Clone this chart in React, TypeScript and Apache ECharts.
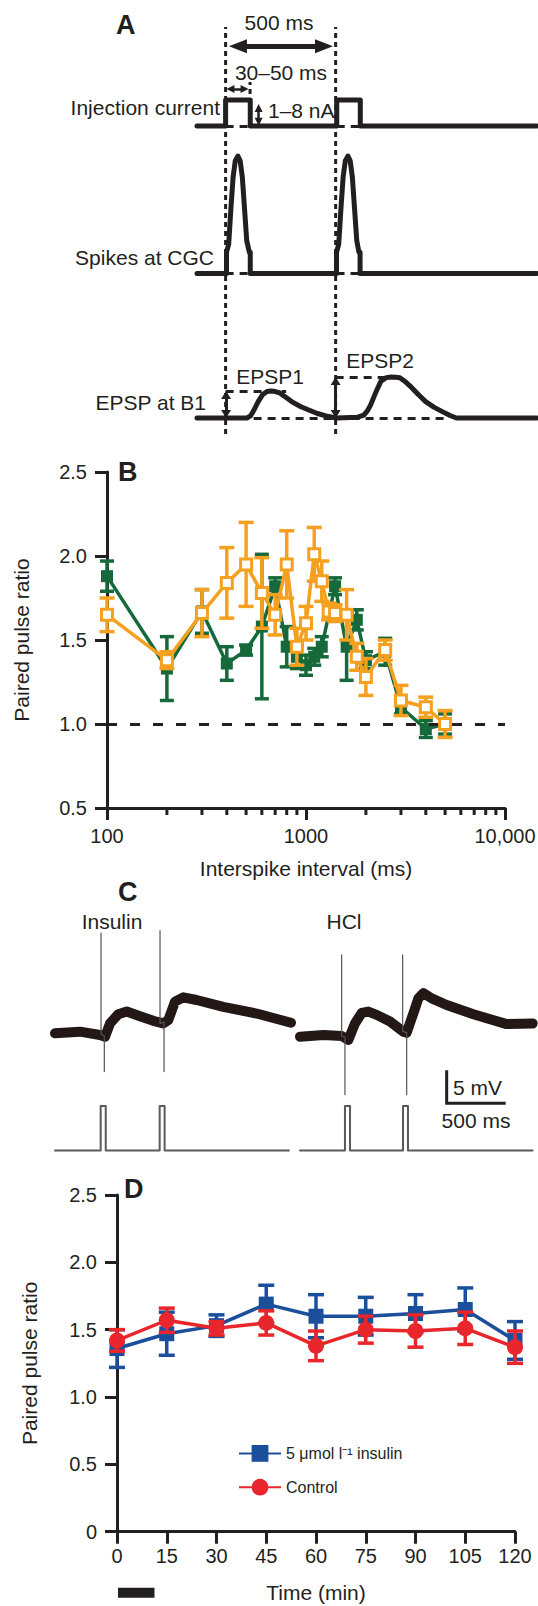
import React, { useEffect, useRef } from "react";
import * as echarts from "echarts";

const FONT = '"Liberation Sans", Arial, Helvetica, sans-serif';
const INK = "#231f20";
const GREEN = "#15693a";
const ORANGE = "#f5a01f";
const BLUE = "#1b4f9c";
const RED = "#e8262b";
const TRACE = "#231815";

// ---------- Panel A : schematic (time in ms, normalised amplitude) ----------
const injTime = [-130, 0, 0, 112, 112, 505, 505, 612, 612, 1415];
const injAmp = [0, 0, 1, 1, 0, 0, 1, 1, 0, 0];
const spikeTime = [-130, 4, 4, 14, 24, 34, 44, 56, 66, 76, 86, 96, 108, 112, 112, 504, 504, 514, 524, 534, 544, 556, 566, 576, 586, 596, 606, 611, 611, 1415];
const spikeAmp = [0, 0, 0.18, 0.25, 0.55, 0.82, 0.96, 1, 0.96, 0.82, 0.55, 0.28, 0.18, 0.18, 0, 0, 0.18, 0.25, 0.55, 0.82, 0.96, 1, 0.96, 0.82, 0.55, 0.28, 0.18, 0.18, 0, 0];
const epspTime = [-130, 97, 113, 129, 148, 168, 188, 207, 226, 246, 272, 300, 340, 378, 417, 456, 503, 600, 628, 645, 659, 682, 706, 730, 753, 772, 792, 820, 846, 878, 909, 948, 987, 1020, 1049, 1415];
const epspAmp = [0, 0, 0.05, 0.195, 0.4, 0.57, 0.645, 0.66, 0.645, 0.61, 0.51, 0.4, 0.28, 0.195, 0.11, 0.05, 0, 0.02, 0.07, 0.18, 0.32, 0.62, 0.9, 0.985, 1, 0.995, 0.98, 0.87, 0.74, 0.56, 0.4, 0.26, 0.15, 0.06, 0, 0];
const epsp1Peak = 0.66;
const epsp2Peak = 1.0;

// ---------- Panel B : paired pulse ratio vs interspike interval ----------
const bIntervalsG = [100, 200, 300, 400, 500, 600, 700, 800, 900, 1000, 1100, 1200, 1400, 1600, 1800, 2000, 2500, 3000, 4000, 5000];
const bGreen = [1.88, 1.33, 1.67, 1.36, 1.44, 1.58, 1.82, 1.46, 1.40, 1.35, 1.40, 1.46, 1.82, 1.46, 1.62, 1.38, 1.43, 1.10, 0.97, 1.00];
const bGreenErr = [0.09, 0.19, 0.13, 0.10, 0.03, 0.43, 0.05, 0.12, 0.07, 0.06, 0.05, 0.06, 0.05, 0.20, 0.06, 0.05, 0.08, 0.04, 0.05, 0.06];
const bIntervalsO = [100, 200, 300, 400, 500, 600, 700, 800, 900, 1000, 1100, 1200, 1300, 1400, 1600, 1800, 2000, 2500, 3000, 4000, 5000];
const bOrange = [1.65, 1.38, 1.66, 1.84, 1.95, 1.78, 1.65, 1.95, 1.46, 1.60, 2.01, 1.85, 1.67, 1.66, 1.65, 1.40, 1.28, 1.44, 1.14, 1.10, 1.00];
const bOrangeErr = [0.10, 0.05, 0.14, 0.21, 0.25, 0.21, 0.12, 0.20, 0.11, 0.10, 0.16, 0.12, 0.05, 0.05, 0.15, 0.08, 0.11, 0.06, 0.09, 0.06, 0.08];
const bMinorTicks = [200, 300, 400, 500, 600, 700, 800, 900, 2000, 3000, 4000, 5000, 6000, 7000, 8000, 9000];

// ---------- Panel C : recordings (time in ms, mV relative to baseline) ----------
const insTime = [0, 212, 381, 424, 466, 537, 608, 720, 833, 918, 960, 1017, 1087, 1200, 1426, 1709, 2000];
const insMv = [0.1, 0.35, -0.15, -0.4, 1.6, 3.0, 3.4, 2.7, 2.0, 1.6, 2.1, 4.9, 5.55, 5.15, 4.1, 3.1, 1.7];
const hclTime = [0, 198, 353, 410, 466, 523, 579, 650, 763, 876, 904, 960, 1003, 1045, 1116, 1243, 1469, 1752, 1972];
const hclMv = [-0.4, -0.15, -0.3, -0.9, 1.6, 3.2, 3.4, 2.9, 1.9, 0.35, 0.2, 3.1, 5.4, 6.2, 5.4, 4.4, 3.0, 1.5, 1.6];
const insArtifacts = [
  [[390, 15.3], [390, 0], [418, -0.3], [418, -5.7]],
  [[890, 15.65], [890, 1.6], [924, 1.8], [924, -5.7]],
];
const hclArtifacts = [
  [[353, 12.0], [353, -0.3], [381, -0.5], [381, -9.2]],
  [[870, 12.0], [870, 0.4], [904, 0.2], [904, -9.2]],
];
const stimInsTime = [0, 387, 387, 430, 430, 887, 887, 929, 929, 1983];
const stimHclTime = [0, 381, 381, 424, 424, 873, 873, 915, 915, 1971];
const stimLevel = [0, 0, 1, 1, 0, 0, 1, 1, 0, 0];
const scaleBarMs = 500;
const scaleBarMv = 5;

// ---------- Panel D : paired pulse ratio over time ----------
const dTimes = [0, 15, 30, 45, 60, 75, 90, 105, 120];
const dInsulin = [1.36, 1.47, 1.53, 1.69, 1.60, 1.60, 1.62, 1.65, 1.42];
const dInsulinErr = [0.14, 0.16, 0.08, 0.14, 0.16, 0.14, 0.14, 0.16, 0.14];
const dControl = [1.42, 1.57, 1.51, 1.55, 1.38, 1.50, 1.49, 1.51, 1.37];
const dControlErr = [0.08, 0.09, 0.05, 0.09, 0.11, 0.10, 0.12, 0.12, 0.12];
const insulinPeriod = [0, 11];
const INS_NAME = "5 \u03bcmol l\u207b\u00b9 insulin";

const zip = (xs: number[], ys: number[]) => xs.map((x, i) => [x, ys[i]]);

function errRender(capHalf: number, color: string, width: number) {
  return (params: any, api: any) => {
    const x = api.value(0);
    const lo = api.coord([x, api.value(1)]);
    const hi = api.coord([x, api.value(2)]);
    const st = { stroke: color, lineWidth: width };
    return {
      type: "group",
      children: [
        { type: "line", shape: { x1: lo[0], y1: lo[1], x2: hi[0], y2: hi[1] }, style: st },
        { type: "line", shape: { x1: lo[0] - capHalf, y1: lo[1], x2: lo[0] + capHalf, y2: lo[1] }, style: st },
        { type: "line", shape: { x1: hi[0] - capHalf, y1: hi[1], x2: hi[0] + capHalf, y2: hi[1] }, style: st },
      ],
    };
  };
}

const txt = (text: string, x: number, y: number, align = "left", size = 21, weight = "normal") => ({
  type: "text",
  silent: true,
  z: 100,
  style: {
    text,
    x,
    y,
    fill: INK,
    fontSize: size,
    fontFamily: FONT,
    fontWeight: weight,
    textAlign: align,
    textVerticalAlign: "middle",
    align,
    verticalAlign: "middle",
  },
});

const hiddenX = (gridIndex: number, min: number, max: number) => ({ type: "value", gridIndex, min, max, show: false });
const hiddenY = hiddenX;

function traceLine(xi: number, data: number[][], width: number, color: string, z = 2) {
  return {
    type: "line",
    xAxisIndex: xi,
    yAxisIndex: xi,
    data,
    symbol: "none",
    silent: true,
    clip: false,
    z,
    lineStyle: { width, color, join: "round", cap: "round" },
  };
}

function markerHolder(xi: number, markLine: any) {
  return {
    type: "line",
    xAxisIndex: xi,
    yAxisIndex: xi,
    data: [[0, 0]],
    symbol: "none",
    silent: true,
    lineStyle: { width: 0, opacity: 0 },
    z: 3,
    markLine: { silent: true, label: { show: false }, animation: false, ...markLine },
  };
}

function buildOption() {
  const axisStyle = {
    axisLine: { lineStyle: { color: INK, width: 3 } },
    axisTick: { length: 12, lineStyle: { color: INK, width: 3 } },
    splitLine: { show: false },
    nameMoveOverlap: false,
  };
  const nameStyle = { fontSize: 21, fontFamily: FONT, color: INK };
  const labelStyle = { fontSize: 20, fontFamily: FONT, color: INK };

  const grid = [
    { left: 197, top: 27, width: 340, height: 407 }, // 0 A frame
    { left: 197, top: 100, width: 340, height: 26 }, // 1 injection
    { left: 197, top: 156, width: 340, height: 117.5 }, // 2 spikes
    { left: 197, top: 377, width: 340, height: 41 }, // 3 EPSP
    { left: 107, top: 472, width: 398, height: 336 }, // 4 B
    { left: 55, top: 935, width: 236, height: 178.2 }, // 5 C insulin
    { left: 300, top: 935, width: 236, height: 178.2 }, // 6 C HCl
    { left: 55, top: 1106, width: 236, height: 44.5 }, // 7 stim ins
    { left: 300, top: 1106, width: 236, height: 44.5 }, // 8 stim hcl
    { left: 117, top: 1195, width: 398, height: 336.7 }, // 9 D
  ].map((g) => ({ ...g, outerBoundsMode: "none", containLabel: false }));

  const xAxis: any[] = [
    hiddenX(0, -130, 1415),
    hiddenX(1, -130, 1415),
    hiddenX(2, -130, 1415),
    hiddenX(3, -130, 1415),
    {
      type: "log",
      logBase: 10,
      gridIndex: 4,
      min: 100,
      max: 10000,
      splitNumber: 2,
      ...axisStyle,
      axisLabel: { ...labelStyle, margin: 18, formatter: (v: number) => (v === 10000 ? "10,000" : String(Math.round(v))) },
      name: "Interspike interval (ms)",
      nameLocation: "middle",
      nameGap: 50,
      nameTextStyle: nameStyle,
    },
    hiddenX(5, 0, 2000),
    hiddenX(6, 0, 2000),
    hiddenX(7, 0, 2000),
    hiddenX(8, 0, 2000),
    {
      type: "value",
      gridIndex: 9,
      min: 0,
      max: 120,
      interval: 15,
      ...axisStyle,
      axisLabel: { ...labelStyle, margin: 14 },
      name: "Time (min)",
      nameLocation: "middle",
      nameGap: 50,
      nameTextStyle: nameStyle,
    },
  ];
  const yAxis: any[] = [
    hiddenY(0, 0, 1),
    hiddenY(1, 0, 1),
    hiddenY(2, 0, 1),
    hiddenY(3, 0, 1),
    {
      type: "value",
      gridIndex: 4,
      min: 0.5,
      max: 2.5,
      interval: 0.5,
      ...axisStyle,
      axisLabel: { ...labelStyle, margin: 20, formatter: (v: number) => v.toFixed(1) },
      name: "Paired pulse ratio",
      nameLocation: "middle",
      nameGap: 75,
      nameTextStyle: nameStyle,
    },
    hiddenY(5, -12, 15),
    hiddenY(6, -12, 15),
    hiddenY(7, 0, 1),
    hiddenY(8, 0, 1),
    {
      type: "value",
      gridIndex: 9,
      min: 0,
      max: 2.5,
      interval: 0.5,
      ...axisStyle,
      axisLabel: { ...labelStyle, margin: 20, formatter: (v: number) => (v === 0 ? "0" : v.toFixed(1)) },
      name: "Paired pulse ratio",
      nameLocation: "middle",
      nameGap: 77,
      nameTextStyle: nameStyle,
    },
  ];

  const dashed = { type: [8, 6], width: 3, color: INK };
  const dotted = { type: [5, 4], width: 3, color: INK };

  const series: any[] = [
    // ----- Panel A -----
    { ...traceLine(0, [[0, 0], [0, 1]], 3, INK), lineStyle: dotted },
    { ...traceLine(0, [[500, 0], [500, 1]], 3, INK), lineStyle: dotted },
    { ...traceLine(0, [[111, 0.813], [111, 0.865]], 3, INK), lineStyle: dotted },
    markerHolder(0, {
      symbol: ["triangle", "triangle"],
      symbolSize: [14, 18],
      lineStyle: { type: "solid", width: 5, color: INK },
      data: [[{ coord: [56, 0.953] }, { coord: [447, 0.953] }]],
    }),
    markerHolder(0, {
      symbol: ["triangle", "triangle"],
      symbolSize: [8, 8],
      lineStyle: { type: "solid", width: 2.5, color: INK },
      data: [
        [{ coord: [22, 0.8477] }, { coord: [86, 0.8477] }],
        [{ coord: [150, 0.801] }, { coord: [150, 0.767] }],
      ],
    }),
    traceLine(1, zip(injTime, injAmp), 5, INK),
    markerHolder(1, {
      symbol: ["none", "none"],
      lineStyle: dashed,
      data: [
        [{ coord: [0, 0] }, { coord: [112, 0] }],
        [{ coord: [505, 0] }, { coord: [612, 0] }],
      ],
    }),
    traceLine(2, zip(spikeTime, spikeAmp), 5, INK),
    markerHolder(2, {
      symbol: ["none", "none"],
      lineStyle: dashed,
      data: [
        [{ coord: [0, 0] }, { coord: [112, 0] }],
        [{ coord: [504, 0] }, { coord: [611, 0] }],
      ],
    }),
    traceLine(3, zip(epspTime, epspAmp), 5, INK, 4),
    markerHolder(3, {
      symbol: ["none", "none"],
      lineStyle: dashed,
      data: [
        [{ coord: [0, epsp1Peak] }, { coord: [275, epsp1Peak] }],
        [{ coord: [500, epsp2Peak] }, { coord: [792, epsp2Peak] }],
        [{ coord: [0, 0] }, { coord: [1000, 0] }],
      ],
    }),
    markerHolder(3, {
      symbol: ["triangle", "triangle"],
      symbolSize: [10, 8],
      lineStyle: { type: "solid", width: 3, color: INK },
      data: [
        [{ coord: [2, 0.1] }, { coord: [2, epsp1Peak - 0.1] }],
        [{ coord: [500, 0.1] }, { coord: [500, epsp2Peak - 0.1] }],
      ],
    }),

    // ----- Panel B -----
    {
      type: "custom",
      xAxisIndex: 4,
      yAxisIndex: 4,
      data: bMinorTicks.map((v) => [v, 0.5]),
      encode: { x: 0, y: 1 },
      z: 6,
      silent: true,
      renderItem: (p: any, api: any) => {
        const c = api.coord([api.value(0), 0.5]);
        return { type: "line", shape: { x1: c[0], y1: c[1], x2: c[0], y2: c[1] + 7 }, style: { stroke: INK, lineWidth: 3 } };
      },
    },
    {
      type: "custom",
      xAxisIndex: 4,
      yAxisIndex: 4,
      data: bIntervalsG.map((x, i) => [x, bGreen[i] - bGreenErr[i], bGreen[i] + bGreenErr[i]]),
      encode: { x: 0, y: [1, 2] },
      z: 2,
      silent: true,
      renderItem: errRender(7, GREEN, 3.5),
    },
    {
      type: "line",
      name: "green",
      xAxisIndex: 4,
      yAxisIndex: 4,
      data: zip(bIntervalsG, bGreen),
      symbol: "rect",
      symbolSize: 12,
      itemStyle: { color: GREEN },
      lineStyle: { color: GREEN, width: 3.5 },
      z: 3,
      silent: true,
    },
    {
      type: "custom",
      xAxisIndex: 4,
      yAxisIndex: 4,
      data: bIntervalsO.map((x, i) => [x, bOrange[i] - bOrangeErr[i], bOrange[i] + bOrangeErr[i]]),
      encode: { x: 0, y: [1, 2] },
      z: 4,
      silent: true,
      renderItem: errRender(7.5, ORANGE, 3.5),
    },
    {
      type: "line",
      name: "orange",
      xAxisIndex: 4,
      yAxisIndex: 4,
      data: zip(bIntervalsO, bOrange),
      symbol: "rect",
      symbolSize: 11,
      itemStyle: { color: "#ffffff", borderColor: ORANGE, borderWidth: 3 },
      lineStyle: { color: ORANGE, width: 3.5 },
      z: 5,
      silent: true,
      markLine: {
        silent: true,
        symbol: ["none", "none"],
        label: { show: false },
        lineStyle: { type: [10, 13], width: 3, color: INK },
        data: [{ yAxis: 1 }],
      },
    },

    // ----- Panel C -----
    traceLine(5, zip(insTime, insMv), 10, TRACE, 3),
    traceLine(6, zip(hclTime, hclMv), 10, TRACE, 3),
    ...insArtifacts.map((d) => traceLine(5, d, 1.2, "#555555", 4)),
    ...hclArtifacts.map((d) => traceLine(6, d, 1.2, "#555555", 4)),
    traceLine(7, zip(stimInsTime, stimLevel), 2, "#5a5a5a"),
    traceLine(8, zip(stimHclTime, stimLevel), 2, "#5a5a5a"),
    { ...traceLine(6, [[1243, -5.5], [1243, -5.5 - scaleBarMv], [1243 + scaleBarMs, -5.5 - scaleBarMv]], 3, INK), lineStyle: { width: 3, color: INK, join: "miter" } },

    // ----- Panel D -----
    {
      type: "custom",
      xAxisIndex: 9,
      yAxisIndex: 9,
      data: [insulinPeriod],
      encode: { x: [0, 1] },
      silent: true,
      renderItem: (p: any, api: any) => {
        const a = api.coord([api.value(0), 0]);
        const b = api.coord([api.value(1), 0]);
        return { type: "rect", shape: { x: a[0] + 1, y: a[1] + 56, width: b[0] - a[0], height: 10 }, style: { fill: INK } };
      },
    },
    {
      type: "custom",
      xAxisIndex: 9,
      yAxisIndex: 9,
      data: dTimes.map((x, i) => [x, dInsulin[i] - dInsulinErr[i], dInsulin[i] + dInsulinErr[i]]),
      encode: { x: 0, y: [1, 2] },
      z: 2,
      silent: true,
      renderItem: errRender(8, BLUE, 3.5),
    },
    {
      type: "line",
      name: INS_NAME,
      xAxisIndex: 9,
      yAxisIndex: 9,
      data: zip(dTimes, dInsulin),
      symbol: "rect",
      symbolSize: 15,
      itemStyle: { color: BLUE },
      lineStyle: { color: BLUE, width: 3.5 },
      z: 3,
      silent: true,
    },
    {
      type: "custom",
      xAxisIndex: 9,
      yAxisIndex: 9,
      data: dTimes.map((x, i) => [x, dControl[i] - dControlErr[i], dControl[i] + dControlErr[i]]),
      encode: { x: 0, y: [1, 2] },
      z: 4,
      silent: true,
      renderItem: errRender(8, RED, 3.5),
    },
    {
      type: "line",
      name: "Control",
      xAxisIndex: 9,
      yAxisIndex: 9,
      data: zip(dTimes, dControl),
      symbol: "circle",
      symbolSize: 16,
      itemStyle: { color: RED },
      lineStyle: { color: RED, width: 3.5 },
      z: 5,
      silent: true,
    },
  ];

  const graphic = {
    elements: [
      txt("A", 116, 25, "left", 27, "bold"),
      txt("500 ms", 279, 22, "center"),
      txt("30\u201350 ms", 281, 72, "center"),
      txt("Injection current", 220, 107, "right"),
      txt("1\u20138 nA", 268, 110, "left"),
      txt("Spikes at CGC", 214, 257, "right"),
      txt("EPSP1", 270, 376, "center"),
      txt("EPSP2", 380, 360, "center"),
      txt("EPSP at B1", 206, 402, "right"),
      txt("B", 118, 472, "left", 27, "bold"),
      txt("C", 118, 892, "left", 27, "bold"),
      txt("Insulin", 112, 921, "center"),
      txt("HCl", 344, 921, "center"),
      txt("5 mV", 453, 1087, "left"),
      txt("500 ms", 476, 1120, "center"),
      txt("D", 124, 1189, "left", 27, "bold"),
    ],
  };

  return {
    animation: false,
    backgroundColor: "#ffffff",
    textStyle: { fontFamily: FONT },
    grid,
    xAxis,
    yAxis,
    legend: {
      data: [INS_NAME, "Control"],
      orient: "vertical",
      left: 233,
      top: 1440,
      itemWidth: 42,
      itemHeight: 21,
      itemGap: 17,
      selectedMode: false,
      textStyle: { fontSize: 16, fontFamily: FONT, color: INK },
    },
    graphic,
    series,
  };
}

export default function App() {
  const ref = useRef<HTMLDivElement>(null);
  useEffect(() => {
    const chart = echarts.init(ref.current!, null, { renderer: "svg" });
    chart.setOption(buildOption() as any);
    return () => chart.dispose();
  }, []);
  return (
    <div
      ref={ref}
      style={{ position: "absolute", left: 0, top: 0, width: 538, height: 1606, background: "#ffffff" }}
    />
  );
}
